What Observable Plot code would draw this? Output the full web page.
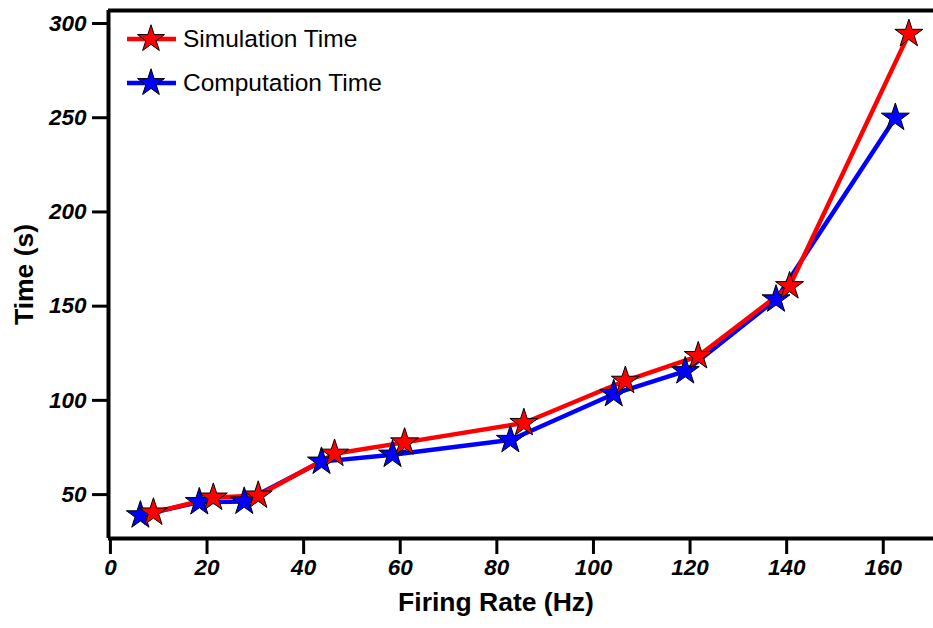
<!DOCTYPE html>
<html><head><meta charset="utf-8">
<script src="https://cdn.jsdelivr.net/npm/d3@7"></script>
<script src="https://cdn.jsdelivr.net/npm/@observablehq/plot@0.6"></script>
<style>
html,body{margin:0;padding:0;background:#fff;}
#wrap{position:relative;width:933px;height:628px;font-family:"Liberation Sans",Arial,sans-serif;}
#legend{position:absolute;left:124px;top:17px;font-size:24.5px;}
.item{display:flex;align-items:center;height:44px;}
.item svg{margin-right:5px;}
</style></head><body>
<div id="wrap"><div id="legend"></div></div>
<script>
const simRate = [8.9, 21.3, 30.6, 46.4, 60.9, 85.6, 106.6, 121.7, 140.6, 165.3];
const simTime = [40.5, 48.4, 49.5, 71.7, 77.7, 88.0, 110.4, 123.5, 160.6, 294.5];
const compRate = [6.2, 18.4, 27.7, 43.7, 58.4, 82.8, 104.2, 119.0, 137.8, 162.5];
const compTime = [39.0, 46.0, 46.3, 67.5, 71.2, 79.0, 103.4, 115.5, 153.6, 250.0];
const xTicks = [0, 20, 40, 60, 80, 100, 120, 140, 160];
const yTicks = [50, 100, 150, 200, 250, 300];
const seriesNames = ["Simulation Time", "Computation Time"];
const seriesColors = ["#ff0000", "#0000ff"];

const sim = simRate.map((x, i) => ({x, y: simTime[i]}));
const comp = compRate.map((x, i) => ({x, y: compTime[i]}));
const xDom = [-0.4, 170.4], yDom = [26.7, 306.9];

const plot = Plot.plot({
  width: 933, height: 628,
  marginLeft: 108, marginRight: 0, marginTop: 10, marginBottom: 90,
  x: {domain: xDom, range: [108, 933]},
  y: {domain: yDom},
  style: {fontFamily: '"Liberation Sans", Arial, sans-serif', background: "#fff", color: "#000"},
  marks: [
    Plot.axisX({ticks: xTicks, tickSize: 16, strokeWidth: 3, tickPadding: 5, fontSize: 22.5, fontWeight: "bold", fontStyle: "italic", label: null}),
    Plot.axisY({ticks: yTicks, tickSize: 16, strokeWidth: 3, tickPadding: 6, fontSize: 22.5, fontWeight: "bold", fontStyle: "italic", label: null}),
    Plot.ruleX([xDom[0]], {strokeWidth: 4}),
    Plot.ruleY([yDom[0]], {strokeWidth: 4}),
    Plot.ruleY([yDom[1]], {strokeWidth: 4}),
    Plot.line(comp, {x: "x", y: "y", stroke: seriesColors[1], strokeWidth: 4.5}),
    Plot.line(sim, {x: "x", y: "y", stroke: seriesColors[0], strokeWidth: 4.5}),
    Plot.dot(comp, {x: "x", y: "y", symbol: "star", r: 8.8, fill: seriesColors[1], stroke: "#000", strokeWidth: 1}),
    Plot.dot(sim, {x: "x", y: "y", symbol: "star", r: 8.8, fill: seriesColors[0], stroke: "#000", strokeWidth: 1}),
    Plot.text(["Firing Rate (Hz)"], {frameAnchor: "bottom", dx: -25, dy: 72, fontSize: 26.5, fontWeight: "bold", fill: "#000"}),
    Plot.text(["Time (s)"], {frameAnchor: "left", textAnchor: "middle", dx: -84, rotate: -90, fontSize: 26.5, fontWeight: "bold", fill: "#000"})
  ]
});
document.getElementById("wrap").prepend(plot);
plot.style.position = "absolute"; plot.style.left = "0"; plot.style.top = "0";

const leg = d3.select("#legend");
seriesNames.forEach((name, i) => {
  const it = leg.append("div").attr("class", "item");
  const s = it.append("svg").attr("width", 54).attr("height", 34);
  s.append("line").attr("x1", 3).attr("x2", 52).attr("y1", 17).attr("y2", 17).attr("stroke", seriesColors[i]).attr("stroke-width", 4.5);
  s.append("path").attr("transform", "translate(27,17)").attr("d", d3.symbol(d3.symbolStar, Math.PI * 8.5 * 8.5)()).attr("fill", seriesColors[i]).attr("stroke", "#000").attr("stroke-width", 1);
  it.append("span").text(name);
});
</script>
</body></html>
